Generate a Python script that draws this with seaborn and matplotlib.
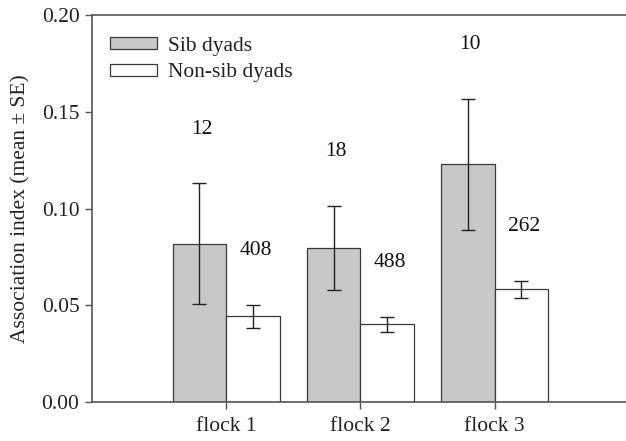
import matplotlib
matplotlib.use("Agg")
import matplotlib.pyplot as plt
import seaborn as sns
import pandas as pd
import numpy as np

flocks = ["flock 1", "flock 2", "flock 3"]
groups = ["Sib dyads", "Non-sib dyads"]
sib_mean = [0.0817, 0.0798, 0.1228]
sib_se = [0.0313, 0.0217, 0.0337]
nonsib_mean = [0.0443, 0.0401, 0.0582]
nonsib_se = [0.0058, 0.0038, 0.0045]
sib_n = ["12", "18", "10"]
nonsib_n = ["408", "488", "262"]
y_ticks = [0.00, 0.05, 0.10, 0.15, 0.20]

df = pd.DataFrame({
    "flock": flocks * 2,
    "group": [groups[0]] * 3 + [groups[1]] * 3,
    "value": sib_mean + nonsib_mean,
})

sns.set_theme(style="white")
plt.rcParams["font.family"] = ["Liberation Serif", "DejaVu Serif"]
FS = 15.5

fig = plt.figure(figsize=(6.26, 4.41), dpi=100)
ax = fig.add_axes([92 / 626, 1 - 402 / 441, 1 - 92 / 626, 387 / 441])

sns.barplot(data=df, x="flock", y="value", hue="group", order=flocks,
            hue_order=groups, palette=["#c8c8c8", "#ffffff"],
            edgecolor="#3a3a3a", linewidth=0.9, width=0.8, errorbar=None,
            ax=ax, saturation=1)

ses = [sib_se, nonsib_se]
labels = [sib_n, nonsib_n]
for cont, se, labs in zip(ax.containers, ses, labels):
    for bar, e, lab in zip(cont, se, labs):
        cx = bar.get_x() + bar.get_width() / 2
        h = bar.get_height()
        ax.errorbar(cx, h, yerr=e, fmt="none", ecolor="#222222",
                    elinewidth=1.0, capsize=5, capthick=1.0)
        ax.text(cx + 0.02, h + e + 0.028, lab, ha="center", va="center",
                fontsize=FS, color="#111111")

ax.set_ylim(0, 0.20)
ax.set_xlim(-1.0, 2.98)
ax.set_yticks(y_ticks)
ax.set_yticklabels([f"{t:.2f}" for t in y_ticks])
ax.set_xlabel("")
ax.set_ylabel("Association index (mean \u00b1 SE)", fontsize=FS, color="#222222", labelpad=8)
ax.tick_params(axis="both", labelsize=FS, colors="#222222")
ax.tick_params(axis="y", direction="out", length=5, width=1, color="#555555", left=True, pad=4)
ax.tick_params(axis="x", direction="out", length=5, width=1, color="#555555", bottom=True, pad=6)

for s in ["left", "top", "bottom"]:
    ax.spines[s].set_color("#555555")
    ax.spines[s].set_linewidth(1.2)
ax.spines["right"].set_visible(False)

leg = ax.legend(loc="upper left", bbox_to_anchor=(0.009, 0.977), frameon=False,
                fontsize=FS, handlelength=2.2, handleheight=0.47,
                handletextpad=0.5, labelspacing=0.35, borderaxespad=0.2)
for t in leg.get_texts():
    t.set_color("#222222")

fig.savefig("out.png", dpi=100)
